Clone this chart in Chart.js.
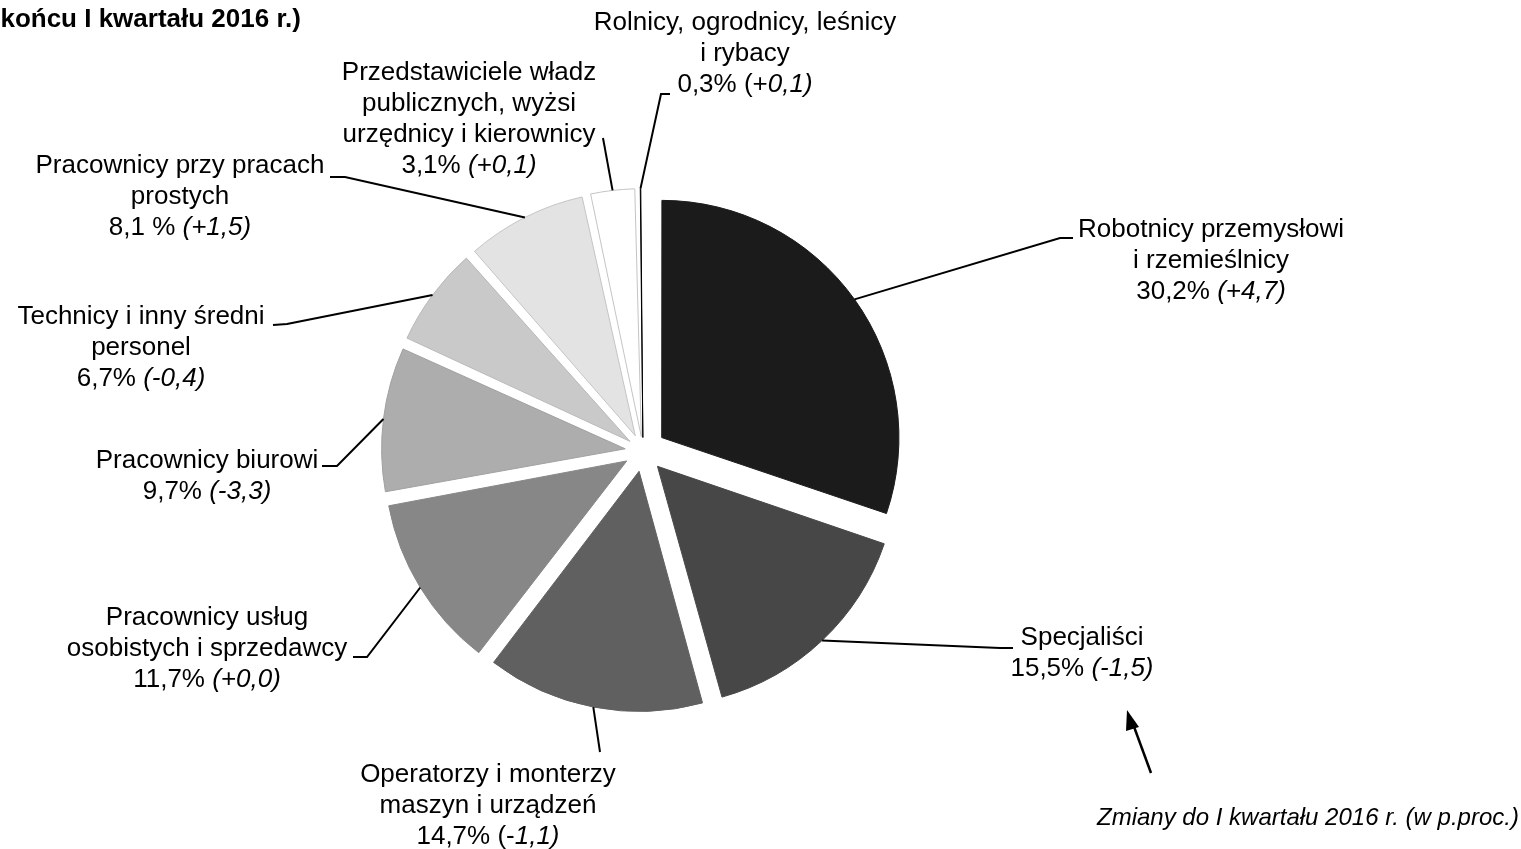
<!DOCTYPE html>
<html>
<head>
<meta charset="utf-8">
<script src="https://cdn.jsdelivr.net/npm/chart.js@4.4.0/dist/chart.umd.min.js"></script>
<style>
  html, body { margin: 0; padding: 0; background: #fff; overflow: hidden; }
</style>
</head>
<body>
<canvas id="occupation-chart" width="1521" height="849"></canvas>
<script>
const CATEGORIES = [
  'Robotnicy przemysłowi i rzemieślnicy',
  'Specjaliści',
  'Operatorzy i monterzy maszyn i urządzeń',
  'Pracownicy usług osobistych i sprzedawcy',
  'Pracownicy biurowi',
  'Technicy i inny średni personel',
  'Pracownicy przy pracach prostych',
  'Przedstawiciele władz publicznych, wyżsi urzędnicy i kierownicy',
  'Rolnicy, ogrodnicy, leśnicy i rybacy'
];
// category names broken the way the original labels are
const LABEL_LINES = [
  ['Robotnicy przemysłowi', 'i rzemieślnicy'],
  ['Specjaliści'],
  ['Operatorzy i monterzy', 'maszyn i urządzeń'],
  ['Pracownicy usług', 'osobistych i sprzedawcy'],
  ['Pracownicy biurowi'],
  ['Technicy i inny średni', 'personel'],
  ['Pracownicy przy pracach', 'prostych'],
  ['Przedstawiciele władz', 'publicznych, wyżsi', 'urzędnicy i kierownicy'],
  ['Rolnicy, ogrodnicy, leśnicy', 'i rybacy']
];
const SHARES = [30.2, 15.5, 14.7, 11.7, 9.7, 6.7, 8.1, 3.1, 0.3];
const CHANGES = [4.7, -1.5, -1.1, 0.0, -3.3, -0.4, 1.5, 0.1, 0.1];

const TITLE_TEXT = 'końcu I kwartału 2016 r.)';
const NOTE_TEXT = 'Zmiany do I kwartału 2016 r. (w p.proc.)';

const SLICE_COLORS = ['#1b1b1b', '#474747', '#606060', '#878787', '#adadad', '#c9c9c9', '#e3e3e3', '#ffffff', '#ffffff'];
const SLICE_BORDERS = ['#1b1b1b', '#474747', '#606060', '#878787', '#a0a0a0', '#b8b8b8', '#c4c4c4', '#c4c4c4', '#000000'];
const FONT_FAMILY = '"Liberation Sans", Arial, sans-serif';
const LABEL_FONT_SIZE = 26;
const LINE_HEIGHT = 31;
const PIE_RADIUS = 236;
const EXPLODE = 24;

// label block centre, leader elbow and leader tail for each slice
const LABEL_LAYOUT = [
  { x: 1211, y: 230, elbow: [1060, 238], tail: [1073, 238] },
  { x: 1082, y: 638, elbow: [1000, 648], tail: [1013, 648] },
  { x: 488,  y: 775, elbow: [600, 752],  tail: [600, 752], plain: 2 },
  { x: 207,  y: 618, elbow: [367, 657],  tail: [353, 657] },
  { x: 207,  y: 461, elbow: [337, 466],  tail: [322, 466] },
  { x: 141,  y: 317, elbow: [287, 324],  tail: [273, 325] },
  { x: 180,  y: 166, elbow: [345, 177],  tail: [330, 177], pctGap: ' ' },
  { x: 469,  y: 73,  elbow: [603, 138],  tail: [603, 138] },
  { x: 745,  y: 23,  elbow: [661, 94],   tail: [670, 94], plain: 2 }
];

function formatNumber(v) {
  return v.toFixed(1).replace('.', ',');
}

function formatChange(v) {
  return '(' + (v < 0 ? '-' : '+') + formatNumber(Math.abs(v)) + ')';
}

function valueLine(i) {
  const lay = LABEL_LAYOUT[i];
  const change = formatChange(CHANGES[i]);
  const plain = lay.plain || 0;
  return [
    { text: formatNumber(SHARES[i]) + (lay.pctGap || '') + '% ' + change.slice(0, plain), italic: false },
    { text: change.slice(plain), italic: true }
  ];
}

function fontFor(seg, size) {
  return (seg.italic ? 'italic ' : '') + (seg.bold ? 'bold ' : '') + size + 'px ' + FONT_FAMILY;
}

function drawSegments(ctx, segs, cx, cy, size) {
  let total = 0;
  segs.forEach(s => {
    ctx.font = fontFor(s, size);
    s.w = ctx.measureText(s.text).width;
    total += s.w;
  });
  let x = cx - total / 2;
  segs.forEach(s => {
    ctx.font = fontFor(s, size);
    ctx.fillText(s.text, x, cy);
    x += s.w;
  });
}

// Chart.js also grows the radius of small exploded slices, so shrink their shift a bit
const total = SHARES.reduce((a, b) => a + b, 0);
const sliceOffsets = SHARES.map(v => {
  const c = v / total * 2 * Math.PI;
  const fix = 1 - Math.sin(Math.min(Math.PI, c));
  return 4 * EXPLODE / (1 + 0.8 * fix);
});

const labelPlugin = {
  id: 'sliceLabels',
  afterDatasetsDraw(chart) {
    const ctx = chart.ctx;
    const arcs = chart.getDatasetMeta(0).data;
    ctx.save();
    ctx.fillStyle = '#000';
    ctx.strokeStyle = '#000';
    ctx.lineWidth = 2;
    ctx.textBaseline = 'middle';
    ctx.textAlign = 'left';

    arcs.forEach((arc, i) => {
      const mid = (arc.startAngle + arc.endAngle) / 2;
      const shift = arc.options.offset / 4;
      const fix = 1 - Math.sin(Math.min(Math.PI, arc.endAngle - arc.startAngle));
      const reach = shift + arc.outerRadius + shift * fix;
      const sx = arc.x + Math.cos(mid) * reach;
      const sy = arc.y + Math.sin(mid) * reach;
      const lay = LABEL_LAYOUT[i];

      ctx.beginPath();
      ctx.moveTo(sx, sy);
      ctx.lineTo(lay.elbow[0], lay.elbow[1]);
      ctx.lineTo(lay.tail[0], lay.tail[1]);
      ctx.stroke();

      const lines = LABEL_LINES[i].map(t => [{ text: t, italic: false }]);
      lines.push(valueLine(i));
      lines.forEach((segs, k) => drawSegments(ctx, segs, lay.x, lay.y + k * LINE_HEIGHT, LABEL_FONT_SIZE));
    });

    // title fragment, cut at the left edge
    ctx.textAlign = 'right';
    ctx.font = 'bold 26px ' + FONT_FAMILY;
    ctx.fillText(TITLE_TEXT, 301, 20);

    // note and arrow
    ctx.textAlign = 'left';
    ctx.font = 'italic 24px ' + FONT_FAMILY;
    ctx.fillText(NOTE_TEXT, 1097, 818);

    ctx.lineWidth = 2.5;
    ctx.beginPath();
    ctx.moveTo(1151, 773);
    ctx.lineTo(1133, 724);
    ctx.stroke();
    ctx.beginPath();
    ctx.moveTo(1127, 710);
    ctx.lineTo(1139, 727);
    ctx.lineTo(1126, 731);
    ctx.closePath();
    ctx.fill();
    ctx.restore();
  }
};

const canvas = document.getElementById('occupation-chart');
new Chart(canvas, {
  type: 'pie',
  data: {
    labels: CATEGORIES,
    datasets: [{
      data: SHARES,
      backgroundColor: SLICE_COLORS,
      borderColor: SLICE_BORDERS,
      borderWidth: 1,
      offset: sliceOffsets,
      hoverOffset: 0
    }]
  },
  options: {
    responsive: false,
    animation: false,
    events: [],
    radius: PIE_RADIUS,
    layout: { padding: { left: 0, right: 235, top: 53, bottom: 0 } },
    plugins: {
      legend: { display: false },
      tooltip: { enabled: false }
    }
  },
  plugins: [labelPlugin]
});
</script>
</body>
</html>
